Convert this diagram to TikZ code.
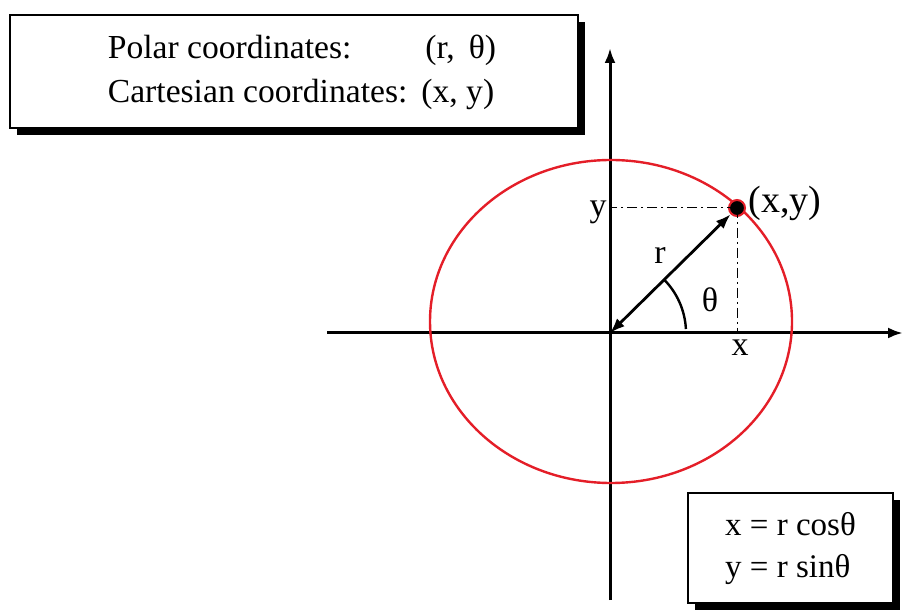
\documentclass[tikz,border=0pt]{standalone}
\usepackage{fontspec}
\setmainfont{Liberation Serif}
\usepackage{tikz}
\usetikzlibrary{arrows.meta, shadows}
\definecolor{circred}{RGB}{228,30,40}

\begin{document}
\begin{tikzpicture}[x=0.5pt, y=0.5pt, >={Latex[length=7.5pt,width=5.5pt]},
  axis/.style={line width=1.5pt, ->},
  infobox/.style={draw=black, line width=0.6pt, fill=white, inner sep=0pt,
    drop shadow={shadow xshift=3.5pt, shadow yshift=-3.5pt, fill=black, opacity=1}},
  lbl/.style={font=\fontsize{17}{20}\selectfont, inner sep=1pt},
  guide/.style={line width=0.5pt, dash pattern=on 5pt off 2pt on 1pt off 2pt}]
\useasboundingbox (0,0) rectangle (903,610);

%% info boxes
\node[infobox, minimum width=284pt, minimum height=56.5pt] (polar) at (294,538.5)
  {\fontsize{16.8}{22}\selectfont\setlength{\tabcolsep}{3.5pt}\hspace{8pt}%
   \begin{tabular}{@{}ll@{}}
   Polar coordinates: & \hspace{2pt}(r,\, θ)\\
   Cartesian coordinates: & (x, y)
   \end{tabular}};
\node[infobox, minimum width=102.5pt, minimum height=55pt] (conv) at (790.5,62)
  {\fontsize{16.5}{21}\selectfont
   \begin{tabular}{@{}l@{}}
   x = r cosθ\\
   y = r sinθ
   \end{tabular}};

%% axes
\coordinate (O) at (610,277);
\coordinate (xl) at (327,277);
\coordinate (xr) at (903,277);
\coordinate (yb) at (610,10);
\coordinate (yt) at (610,562);
\draw[axis] (xl) -- (xr);
\draw[axis] (yb) -- (yt);

%% circle of radius r
\draw[circred, line width=1.2pt] (611,288.5) ellipse (181 and 161.5);

%% point and projections
\node[circle, fill=black, draw=circred, line width=1pt, minimum size=8pt, inner sep=0pt] (P) at (737,402) {};
\coordinate (Py) at (610,402);
\coordinate (Px) at (737,277);
\draw[guide] (P.center) -- (Py);
\draw[guide] (P.center) -- (Px);
\draw[<->, line width=1.4pt] (O) -- (P);
\draw[line width=1.2pt] (O) ++(3:76) arc (3:45:76);

%% labels
\node[lbl] (ylab) at (598,398) {y};
\node[lbl] (xlab) at (740,262) {x};
\node[lbl] (rlab) at (660,355) {r};
\node[lbl] (tlab) at (710,310) {θ};
\node[font=\fontsize{19}{22}\selectfont, inner sep=1pt, anchor=west] (Plab) at (746,407) {(x,y)};
\end{tikzpicture}
\end{document}
